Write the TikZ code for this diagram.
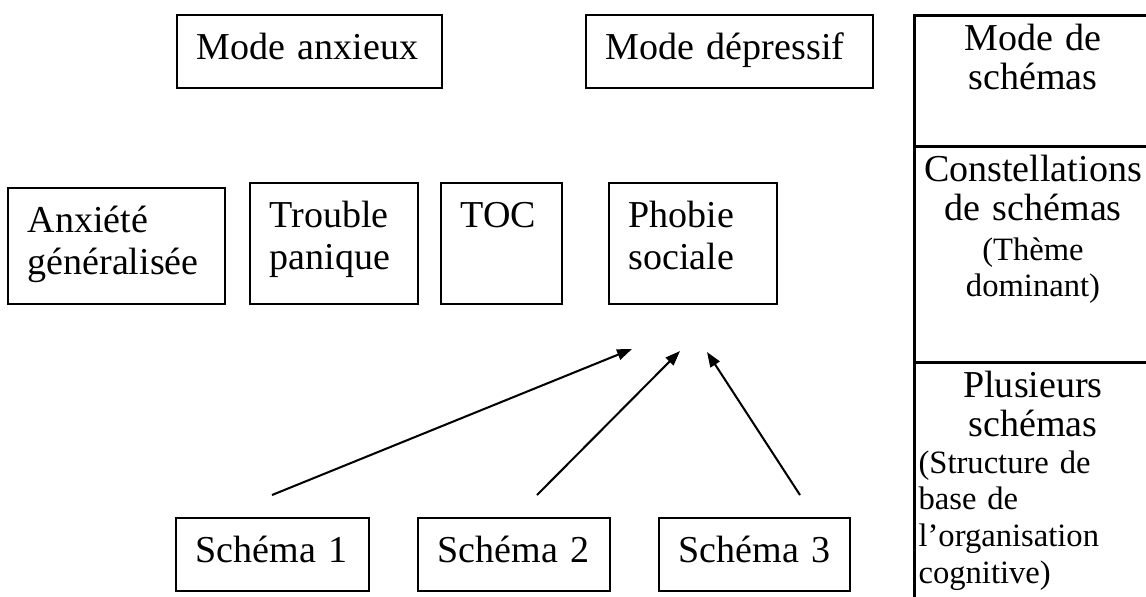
\documentclass[tikz,border=0pt]{standalone}
\usepackage{fontspec}
\setmainfont{Liberation Serif}
\usetikzlibrary{calc,arrows.meta}
\tikzset{
  box/.style={draw, line width=0.75pt, inner sep=0pt, anchor=north west},
  txt/.style={inner sep=0pt, anchor=base west, text width=95pt, align=left, font=\fontsize{14}{15.5}\selectfont},
  colbig/.style={inner sep=0pt, anchor=base, text width=95pt, align=center, font=\fontsize{14}{14.7}\selectfont},
  colsmall/.style={inner sep=0pt, anchor=base, text width=95pt, align=center, font=\fontsize{12}{13.6}\selectfont},
  colleft/.style={inner sep=0pt, anchor=base west, text width=80pt, align=left, font=\fontsize{12}{13.6}\selectfont},
  arr/.style={line width=0.75pt, -{Triangle[length=5.5pt, width=4pt]}}
}
\def\wordbox(#1)(#2,#3)(#4,#5)#6{%
  \node[box, minimum width={(#4-#2)*0.368pt}, minimum height={(#5-#3)*0.368pt}] (#1) at (#2,#3) {};
  \node[txt] (#1-txt) at ($(#1.north west)+(20,45)$) {#6};}

\begin{document}
\begin{tikzpicture}[x=0.368pt, y=-0.368pt]
		\useasboundingbox (0,0) rectangle (1146,596);
		\clip (0,0) rectangle (1146,596);
		%%%%% START %%%%%
		
		\wordbox(anxieux)(176,14)(441,87){Mode anxieux};
		\wordbox(depressif)(585,14)(872,87){Mode dépressif};
		
		\wordbox(anxiete)(7,187)(224,303){Anxiété\\généralisée};
		\wordbox(panique)(249,182)(417,303){Trouble\\panique};
		\wordbox(toc)(440,182)(561,303){TOC};
		\wordbox(phobie)(608,182)(776,303){Phobie\\sociale};
		
		\wordbox(schema1)(175,517)(368,590){Schéma 1};
		\wordbox(schema2)(417,517)(609,590){Schéma 2};
		\wordbox(schema3)(658,517)(849,590){Schéma 3};
		
		\coordinate (tail1) at (272,495);
		\coordinate (tail2) at (537,495);
		\coordinate (tail3) at (800,495);
		\coordinate (head1) at (632,349);
		\coordinate (head2) at (680,351);
		\coordinate (head3) at (707,352);
		\draw[arr] (tail1) -- (head1);
		\draw[arr] (tail2) -- (head2);
		\draw[arr] (tail3) -- (head3);
		
		\draw[line width=1.1pt] (914,15) rectangle (1170,620);
		\draw[line width=1.1pt] (914,146) -- (1170,146);
		\draw[line width=1.1pt] (914,362) -- (1170,362);
		
		\node[colbig] (modes) at (1033,50) {Mode de\\schémas};
		\node[colbig] (constel) at (1033,181) {Constellations\\de schémas};
		\node[colsmall] (theme) at (1033,260) {(Thème\\dominant)};
		\node[colbig] (plusieurs) at (1033,397) {Plusieurs\\schémas};
		\node[colleft] (structure) at (918,473) {(Structure de\\base de\\l’organisation\\cognitive)};
		
		%%%%% END %%%%%
	\end{tikzpicture}
\end{document}
